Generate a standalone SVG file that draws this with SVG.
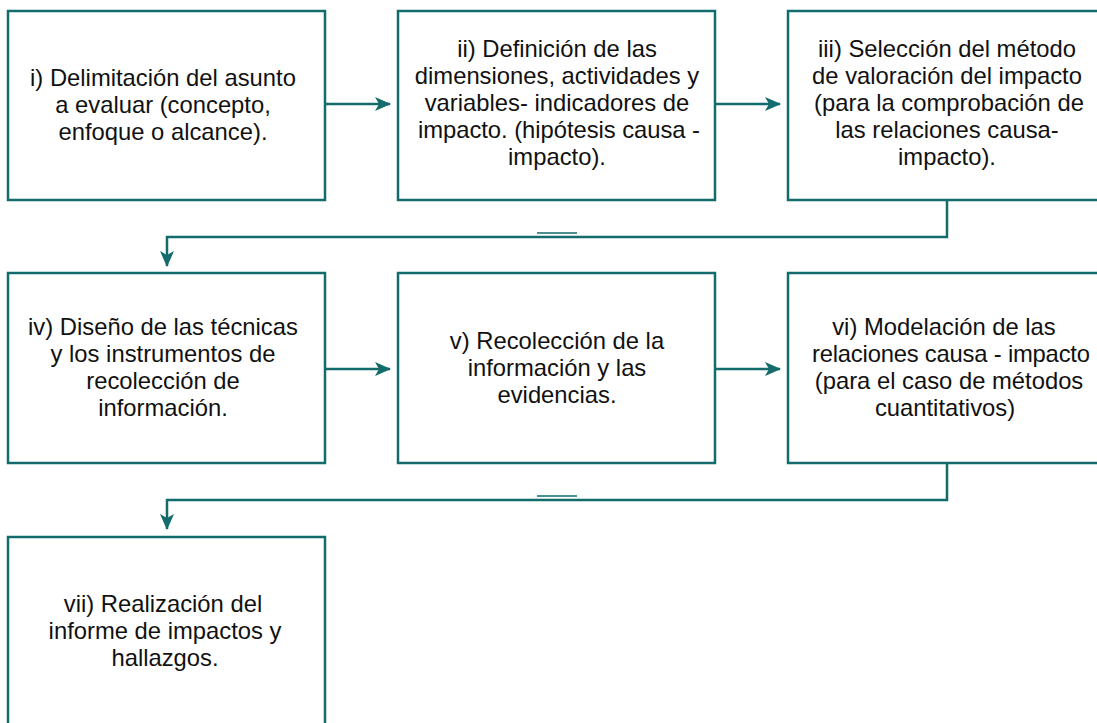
<svg xmlns="http://www.w3.org/2000/svg" width="1097" height="723" viewBox="0 0 1097 723">
<style>
.box{fill:#ffffff;stroke:#136b6b;stroke-width:2.5}
.con{fill:none;stroke:#136b6b;stroke-width:2.5}
.dash{stroke:#136b6b;stroke-width:1.5}
text{font-family:"Liberation Sans",Arial,sans-serif;font-size:23.8px;fill:#111111;text-anchor:middle}
</style>
<defs>
<marker id="ah" viewBox="0 0 16 14" refX="15" refY="7" markerWidth="16" markerHeight="14" markerUnits="userSpaceOnUse" orient="auto">
<path d="M0,0 L16,7 L0,14 L4,7 Z" fill="#136b6b"/>
</marker>
</defs>
<rect width="1097" height="723" fill="#ffffff"/>
<g id="connectors">
<line class="con" x1="325" y1="104" x2="390" y2="104" marker-end="url(#ah)"/>
<line class="con" x1="715" y1="104" x2="780" y2="104" marker-end="url(#ah)"/>
<polyline class="con" points="947,200 947,237 167,237 167,266" marker-end="url(#ah)"/>
<line class="con" x1="325" y1="369" x2="390" y2="369" marker-end="url(#ah)"/>
<line class="con" x1="715" y1="369" x2="780" y2="369" marker-end="url(#ah)"/>
<polyline class="con" points="947,463 947,500 167,500 167,529" marker-end="url(#ah)"/>
<line class="dash" x1="537" y1="233" x2="577" y2="233"/>
<line class="dash" x1="537" y1="496" x2="577" y2="496"/>
</g>
<g id="node1">
<rect class="box" x="8" y="11" width="317" height="189"/>
<text x="163" y="86">i) Delimitación del asunto</text>
<text x="163" y="113">a evaluar (concepto,</text>
<text x="163" y="140">enfoque o alcance).</text>
</g>
<g id="node2">
<rect class="box" x="398" y="11" width="317" height="189"/>
<text x="557" y="57">ii) Definición de las</text>
<text x="557" y="84">dimensiones, actividades y</text>
<text x="557" y="111">variables- indicadores de</text>
<text x="559" y="138" textLength="282">impacto. (hipótesis causa -</text>
<text x="557" y="165">impacto).</text>
</g>
<g id="node3">
<rect class="box" x="788" y="11" width="320" height="189"/>
<text x="947" y="57">iii) Selección del método</text>
<text x="947" y="84">de valoración del impacto</text>
<text x="949" y="111">(para la comprobación de</text>
<text x="947" y="138">las relaciones causa-</text>
<text x="947" y="165">impacto).</text>
</g>
<g id="node4">
<rect class="box" x="8" y="273" width="317" height="190"/>
<text x="163" y="335">iv) Diseño de las técnicas</text>
<text x="163" y="362">y los instrumentos de</text>
<text x="163" y="389">recolección de</text>
<text x="163" y="416">información.</text>
</g>
<g id="node5">
<rect class="box" x="398" y="273" width="317" height="190"/>
<text x="557" y="349">v) Recolección de la</text>
<text x="557" y="376">información y las</text>
<text x="557" y="403">evidencias.</text>
</g>
<g id="node6">
<rect class="box" x="788" y="273" width="320" height="190"/>
<text x="944" y="335">vi) Modelación de las</text>
<text x="951" y="362" textLength="278">relaciones causa - impacto</text>
<text x="949" y="389">(para el caso de métodos</text>
<text x="945" y="416">cuantitativos)</text>
</g>
<g id="node7">
<rect class="box" x="8" y="537" width="317" height="200"/>
<text x="163" y="612">vii) Realización del</text>
<text x="165" y="639">informe de impactos y</text>
<text x="165" y="666">hallazgos.</text>
</g>
</svg>
